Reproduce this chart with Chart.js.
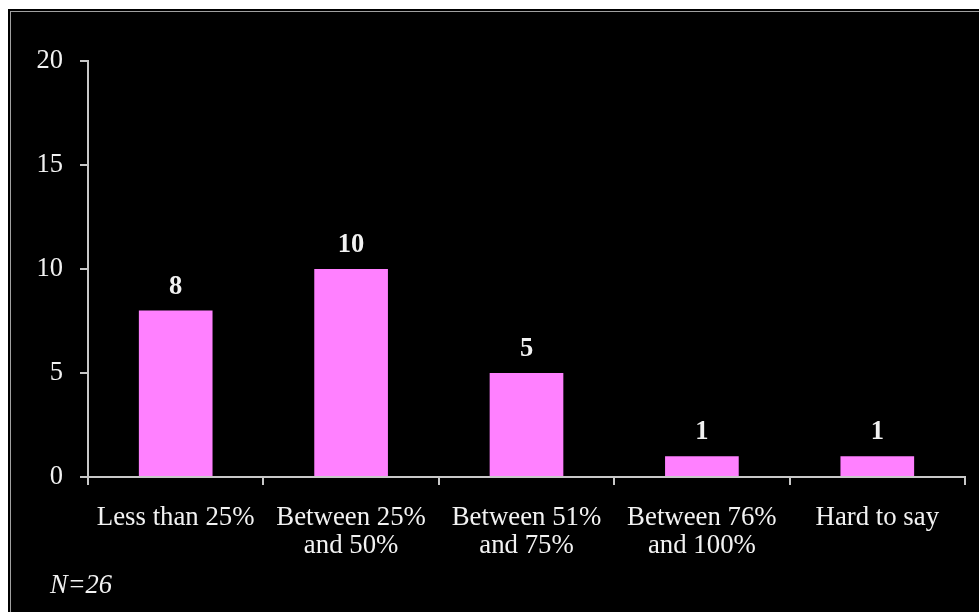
<!DOCTYPE html>
<html>
<head>
<meta charset="utf-8">
<script src="https://cdn.jsdelivr.net/npm/chart.js@4"></script>
<style>
  html, body { margin: 0; padding: 0; background: #fff; }
  #wrap { position: relative; width: 979px; height: 612px; overflow: hidden; }
  #frame {
    position: absolute; left: 8px; top: 9px; width: 1000px; height: 700px;
    background: #000; border-left: 2px solid #000; border-top: 2px solid #000;
  }
  #frame:after {
    content: ""; position: absolute; left: 0; top: 0; right: 0; bottom: 0;
    border-left: 1px solid #a0a0a0; border-top: 1px solid #a0a0a0;
  }
  #box { position: absolute; left: 0; top: 0; width: 979px; height: 612px; }
  #note {
    position: absolute; left: 50px; top: 569px;
    font: italic 26.5px 'Liberation Serif', serif; color: #f2f2f2;
  }
</style>
</head>
<body>
<div id="wrap">
  <div id="frame"></div>
  <div id="box"><canvas id="barChart"></canvas></div>
  <div id="note">N=26</div>
</div>
<script>
const categories = [
    ['Less than 25%'],
    ['Between 25%', 'and 50%'],
    ['Between 51%', 'and 75%'],
    ['Between 76%', 'and 100%'],
    ['Hard to say'],
];
const counts = [8, 10, 5, 1, 1];
const yTicks = [0, 5, 10, 15, 20];

const axisColor = '#c8c8c8';
const textColor = '#f2f2f2';

// value on top of each bar
const barValues = {
    id: 'barValues',
    afterDatasetsDraw(chart) {
        const ctx = chart.ctx;
        const meta = chart.getDatasetMeta(0);
        ctx.save();
        ctx.font = "bold 26.5px 'Liberation Serif', serif";
        ctx.fillStyle = textColor;
        ctx.textAlign = 'center';
        ctx.textBaseline = 'alphabetic';
        meta.data.forEach(function(bar, i) {
            ctx.fillText(String(counts[i]), bar.x, bar.y - 17);
        });
        ctx.restore();
    }
};

new Chart(document.getElementById('barChart'), {
    type: 'bar',
    data: {
        labels: categories,
        datasets: [{
            data: counts,
            backgroundColor: '#ff80ff',
            borderWidth: 0,
            categoryPercentage: 1,
            barPercentage: 0.42,
        }]
    },
    options: {
        responsive: true,
        maintainAspectRatio: false,
        animation: false,
        layout: { padding: { left: 20, top: 61, right: 14, bottom: 35 } },
        plugins: {
            legend: { display: false },
            tooltip: { enabled: false },
        },
        scales: {
            x: {
                afterFit: function(scale) { scale.height = 100; },
                grid: {
                    offset: true,
                    drawOnChartArea: false,
                    drawTicks: true,
                    tickLength: 8,
                    tickColor: axisColor,
                    lineWidth: 2,
                },
                border: { color: axisColor, width: 2 },
                ticks: {
                    color: textColor,
                    padding: 18,
                    maxRotation: 0,
                    font: { family: "'Liberation Serif', serif", size: 26.8, lineHeight: 1.08 },
                },
            },
            y: {
                min: 0,
                max: 20,
                afterFit: function(scale) { scale.width = 68; },
                afterBuildTicks: function(scale) {
                    scale.ticks = yTicks.map(function(v) { return { value: v }; });
                },
                grid: {
                    drawOnChartArea: false,
                    drawTicks: true,
                    tickLength: 8,
                    tickColor: axisColor,
                    lineWidth: 2,
                },
                border: { color: axisColor, width: 2 },
                ticks: {
                    color: textColor,
                    padding: 17,
                    font: { family: "'Liberation Serif', serif", size: 26.5 },
                },
            },
        },
    },
    plugins: [barValues],
});
</script>
</body>
</html>
